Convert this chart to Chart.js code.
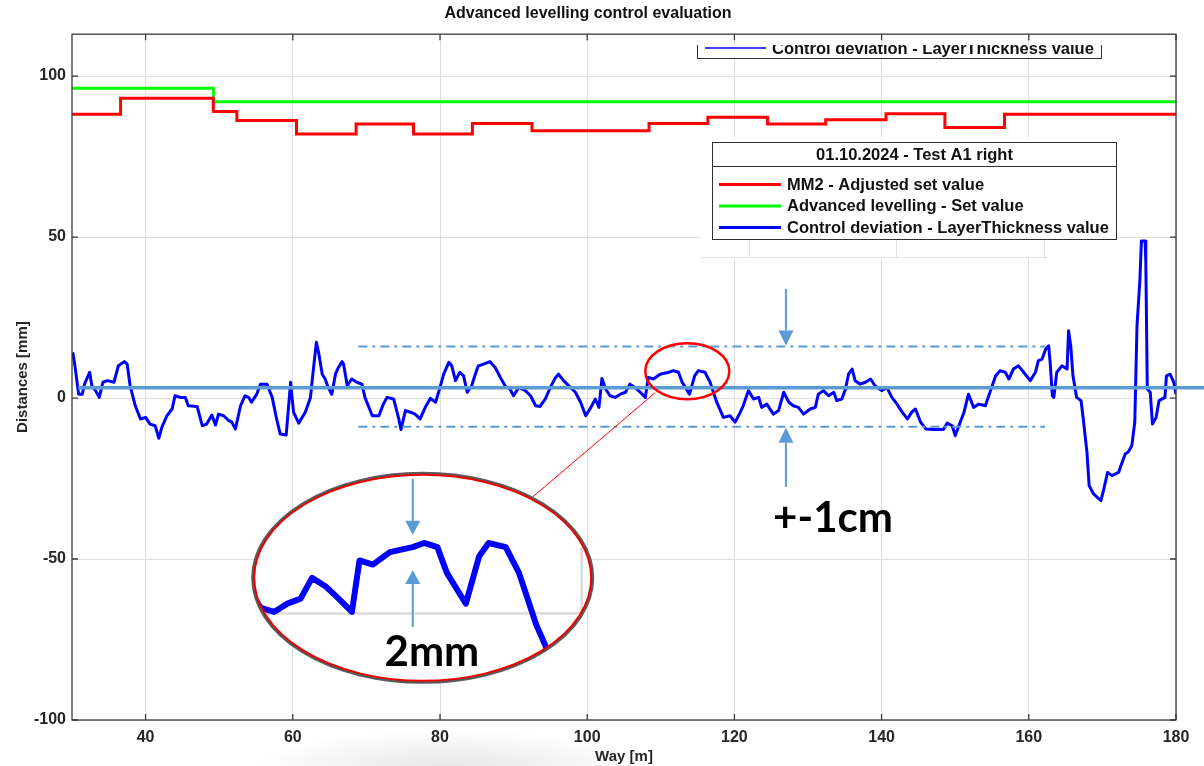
<!DOCTYPE html>
<html><head><meta charset="utf-8">
<script src="https://cdn.jsdelivr.net/npm/chart.js@4.4.1/dist/chart.umd.min.js"></script>
<style>html,body{margin:0;padding:0;background:#fff;}canvas{display:block}</style>
</head><body>
<canvas id="c" width="1204" height="766"></canvas>
<script>
// ---------- texts ----------
const titleText = 'Advanced levelling control evaluation';
const xTitle = 'Way [m]';
const yTitle = 'Distances [mm]';
const legendTitle = '01.10.2024 - Test A1 right';
const seriesNames = ['MM2 - Adjusted set value', 'Advanced levelling - Set value', 'Control deviation - LayerThickness value'];
const bandLabel = '+-1cm';
const insetLabel = '2mm';

// ---------- ticks ----------
const xTicks = [40, 60, 80, 100, 120, 140, 160, 180];
const yTicks = [-100, -50, 0, 50, 100];

// ---------- series ----------
const redWay = [30, 36.6, 49.2, 52.4, 60.5, 68.6, 76.4, 84.4, 92.5, 108.4, 116.4, 124.5, 132.4, 140.6, 148.6, 156.7, 180];
const redSet = [88.1, 93.1, 89.0, 86.2, 82.0, 85.1, 82.0, 85.3, 83.0, 85.3, 87.2, 85.1, 86.4, 88.3, 84.0, 88.1, 88.1];

const greenWay = [30, 49.2, 180];
const greenSet = [96.2, 92.0, 92.0];

const blueWay = [30.1,30.4,30.9,31.4,31.7,32.0,32.4,32.7,33.2,33.7,34.2,34.8,35.7,36.3,37.1,37.5,37.9,38.6,39.3,40.0,
40.6,41.3,41.8,42.2,42.9,43.6,44.0,44.7,45.4,45.8,47.0,47.7,48.3,49.0,49.5,49.9,50.6,51.3,51.7,52.2,
52.9,53.5,54.0,54.4,55.1,55.6,56.5,57.2,57.8,58.3,59.1,59.7,60.1,60.8,61.7,62.4,62.7,63.2,63.5,64.0,
64.4,64.8,65.3,65.8,66.2,66.7,66.9,67.4,68.0,68.7,69.4,69.8,70.8,71.7,72.3,72.8,73.7,74.4,74.7,75.3,
76.0,76.6,77.3,78.0,78.7,79.4,80.0,80.5,81.2,81.6,82.1,82.7,83.2,83.7,84.3,84.8,85.2,85.9,86.8,87.5,
88.2,88.9,89.5,90.0,90.7,91.6,92.3,93.0,93.6,94.3,95.0,95.7,96.1,96.8,97.7,98.4,99.1,99.8,100.5,101.1,
101.6,102.0,102.5,103.1,103.8,104.5,105.2,105.8,106.5,107.2,107.9,108.3,109.0,109.9,111.1,111.7,112.4,112.9,113.6,113.9,
114.6,115.1,116.0,116.7,117.6,118.5,119.4,120.1,120.8,121.2,121.9,122.6,123.3,123.7,124.4,125.3,126.0,126.7,127.4,128.0,
128.7,129.4,130.3,131.0,131.4,132.1,132.8,133.5,133.9,134.6,135.1,135.5,136.0,136.4,137.1,137.8,138.5,139.1,140.0,140.7,
141.4,142.1,142.8,143.5,144.1,144.6,145.3,146.0,147.1,148.4,148.9,149.6,150.0,150.5,151.2,151.8,152.5,153.2,154.1,154.8,
155.5,156.1,156.8,157.3,157.9,158.6,159.3,160.2,160.9,161.3,161.8,162.3,162.7,162.9,163.2,163.4,163.8,164.5,165.2,165.4,
165.7,166.0,166.5,167.1,167.4,167.9,168.2,168.8,169.8,170.2,170.7,171.3,172.2,172.6,173.1,173.5,174.0,174.4,174.7,175.1,
175.3,175.8,175.9,176.1,176.5,176.8,177.3,177.7,178.5,178.7,179.2,179.7,180.0];
const blueDev = [14.2,10.0,1.2,1.2,4.3,5.9,8.0,3.8,2.3,0.2,4.9,5.4,4.9,10.0,11.3,10.5,3.8,-2.4,-6.5,-6.0,
-8.1,-8.6,-12.5,-9.1,-5.5,-3.4,0.7,0.2,0.2,-2.4,-2.6,-8.6,-8.1,-5.3,-8.4,-5.0,-5.5,-7.0,-7.4,-9.6,
-2.4,0.7,0.2,-1.3,1.2,4.3,4.3,0.2,-6.5,-11.2,-11.5,4.9,-4.4,-7.8,-4.4,0.2,6.9,17.3,14.2,7.4,
5.9,3.3,1.2,7.4,9.5,11.3,10.5,3.8,5.9,4.9,4.3,0.2,-5.5,-5.5,-1.9,0.2,-0.3,-6.5,-9.8,-3.9,
-4.4,-5.0,-6.5,-2.9,-0.1,-1.3,3.3,7.4,11.1,10.0,5.4,8.0,6.9,1.8,3.8,7.4,10.0,10.5,11.3,9.5,
6.4,3.6,2.8,0.7,3.3,2.3,0.7,-2.4,-2.6,-0.3,3.3,6.4,7.4,5.4,3.3,1.8,-1.3,-5.5,-2.9,-0.3,
-2.9,6.1,2.8,0.7,0.2,1.2,1.8,4.3,3.3,1.8,0.2,6.4,5.9,7.4,8.0,8.5,8.0,4.9,2.3,1.2,
6.9,8.5,8.0,4.9,-1.3,-6.0,-5.5,-7.5,-4.4,-2.4,2.3,-0.3,0.2,-2.9,-1.9,-5.0,-3.9,1.8,-1.3,-2.4,
-2.9,-5.0,-3.4,-2.9,1.2,2.3,0.7,1.8,-0.8,-0.3,2.8,7.4,9.0,5.4,4.3,4.9,5.9,3.8,2.3,3.3,
0.2,-1.9,-4.4,-6.5,-4.4,-3.4,-7.5,-9.6,-9.8,-9.8,-7.8,-8.6,-11.7,-8.6,-4.4,1.2,-2.9,-1.9,-2.4,2.3,
6.9,8.5,8.0,5.9,9.0,10.0,8.0,5.4,8.0,11.6,12.1,15.2,16.2,11.1,0.7,0.2,8.0,10.0,9.0,20.9,
16.2,6.9,0.2,-0.8,-6.5,-16.8,-27.2,-29.8,-31.9,-28.2,-23.1,-24.1,-23.1,-20.5,-17.4,-16.8,-14.8,-7.5,22.4,36.9,
48.8,48.8,42.1,2.8,1.8,-8.1,-6.0,-0.8,0.2,6.9,7.4,4.9,1.2];

// ---------- annotation values (data units) ----------
const refLevel = 3.2;           // thick light-blue reference line
const refStartWay = 30.85;
const bandUpper = 16.0, bandLower = -8.9, bandFrom = 68.9, bandTo = 162.2;
const arrowWay = 127.0, arrowTopTail = 33.9, arrowBottomTail = -27.6;
const labelPos = [133.4, -37.3];
const smallEllipse = [113.6, 8.35, 5.71, 8.7];     // cx, cy, rx, ry
const insetEllipse = [77.65, -55.85, 23.03, 32.3];
const connector = [[109.2, 1.6], [92.6, -30.7]];
const magSrc = [110, 5], magDst = [73.45, -54.05], magZoom = 2.58, magGridWay = 120;
const insetArrowWay = 76.3, insetTopTail = -25.1, insetTopTip = -42.5, insetBotTip = -53.4, insetBotTail = -71.1;
const insetLabelPos = [78.9, -78.9];

const FONT = 'Liberation Sans';
const TXT = '#262626';
const LBLUE = '#5b9bd5';

function arrow(ctx, x, yTail, yTip, len, half) {
  const dir = Math.sign(yTip - yTail);
  ctx.beginPath(); ctx.moveTo(x, yTail); ctx.lineTo(x, yTip - dir * len); ctx.stroke();
  ctx.beginPath(); ctx.moveTo(x, yTip); ctx.lineTo(x - half, yTip - dir * len); ctx.lineTo(x + half, yTip - dir * len); ctx.closePath(); ctx.fill();
}

const overlay = {
  id: 'overlay',
  beforeDraw(chart) {
    const c = chart.ctx; c.save();
    c.fillStyle = '#fff'; c.fillRect(0, 0, chart.width, chart.height);
    // soft shadow under the inset picture
    c.translate(450, 770); c.scale(1, 0.2);
    const g = c.createRadialGradient(0, 0, 0, 0, 0, 200);
    g.addColorStop(0, 'rgba(0,0,0,0.10)'); g.addColorStop(1, 'rgba(0,0,0,0)');
    c.fillStyle = g; c.fillRect(-220, -220, 440, 440);
    c.restore();
  },
  afterDatasetsDraw(chart) {
    const c = chart.ctx, xs = chart.scales.x, ys = chart.scales.y, A = chart.chartArea;
    const X = v => xs.getPixelForValue(v), Y = v => ys.getPixelForValue(v);
    c.save();

    // ---- covered area under the legend (pasted legend image) ----
    c.fillStyle = '#fff'; c.fillRect(700, 137, 417, 121);
    c.strokeStyle = '#e3e3e3'; c.lineWidth = 1;
    [120, 140, 160].forEach(v => { const px = Math.round(X(v) + 14.7) + 0.5; c.beginPath(); c.moveTo(px, 239); c.lineTo(px, 258); c.stroke(); });
    c.beginPath(); c.moveTo(700, 257.5); c.lineTo(1047, 257.5); c.stroke();

    // ---- frame and inner ticks ----
    c.strokeStyle = '#3a3a3a'; c.lineWidth = 1.3;
    c.strokeRect(A.left, A.top, A.right - A.left, A.bottom - A.top);
    c.beginPath();
    xTicks.forEach(v => { const px = X(v); c.moveTo(px, A.bottom); c.lineTo(px, A.bottom - 6); c.moveTo(px, A.top); c.lineTo(px, A.top + 6); });
    yTicks.forEach(v => { const py = Y(v); c.moveTo(A.left, py); c.lineTo(A.left + 6, py); c.moveTo(A.right, py); c.lineTo(A.right - 6, py); });
    c.stroke();

    // ---- partially hidden legend at the top ----
    c.save();
    c.beginPath(); c.rect(690, 45, 430, 20); c.clip();
    c.fillStyle = '#fff'; c.fillRect(697, 30, 405, 29);
    c.strokeStyle = '#303030'; c.lineWidth = 1; c.strokeRect(697.5, 30.5, 404, 28);
    c.strokeStyle = chart.data.datasets[2].borderColor; c.lineWidth = 1.5;
    c.beginPath(); c.moveTo(705, 48); c.lineTo(766, 48); c.stroke();
    c.fillStyle = '#111'; c.font = 'bold 16.5px "' + FONT + '"'; c.textBaseline = 'alphabetic'; c.textAlign = 'left';
    c.fillText(seriesNames[2], 772, 54);
    c.restore();

    // ---- main legend ----
    c.fillStyle = '#fff'; c.fillRect(712.5, 142.5, 404, 97);
    c.strokeStyle = '#303030'; c.lineWidth = 1;
    c.strokeRect(712.5, 142.5, 404, 97);
    c.beginPath(); c.moveTo(712.5, 166.5); c.lineTo(1116.5, 166.5); c.stroke();
    c.fillStyle = '#111'; c.font = 'bold 16.5px "' + FONT + '"'; c.textBaseline = 'middle';
    c.textAlign = 'center'; c.fillText(legendTitle, 914.5, 155.5);
    c.textAlign = 'left';
    [184.5, 206, 227.5].forEach((ry, i) => {
      c.strokeStyle = chart.data.datasets[i].borderColor; c.lineWidth = 3;
      c.beginPath(); c.moveTo(719, ry); c.lineTo(781, ry); c.stroke();
      c.fillStyle = '#111'; c.fillText(chart.data.datasets[i].label, 787, ry + 0.5);
    });

    // ---- band (dash-dot) lines ----
    c.strokeStyle = LBLUE; c.lineWidth = 2; c.setLineDash([9, 5, 3, 5]);
    [bandUpper, bandLower].forEach(v => { c.beginPath(); c.moveTo(X(bandFrom), Y(v)); c.lineTo(X(bandTo), Y(v)); c.stroke(); });
    c.setLineDash([]);

    // ---- arrows ----
    c.strokeStyle = LBLUE; c.fillStyle = LBLUE; c.lineWidth = 2;
    arrow(c, X(arrowWay), Y(arrowTopTail), Y(bandUpper) - 1, 15, 7.5);
    arrow(c, X(arrowWay), Y(arrowBottomTail), Y(bandLower) + 1, 15, 7.5);

    // ---- reference level line (extends to the page edge) ----
    c.strokeStyle = LBLUE; c.lineWidth = 3.5;
    c.beginPath(); c.moveTo(X(refStartWay), Y(refLevel)); c.lineTo(chart.width, Y(refLevel)); c.stroke();

    // ---- small ellipse and connector ----
    const se = { x: X(smallEllipse[0]), y: Y(smallEllipse[1]), rx: X(smallEllipse[0] + smallEllipse[2]) - X(smallEllipse[0]), ry: Y(smallEllipse[1]) - Y(smallEllipse[1] + smallEllipse[3]) };
    c.strokeStyle = '#ff0000'; c.lineWidth = 2.5;
    c.beginPath(); c.ellipse(se.x, se.y, se.rx, se.ry, 0, 0, Math.PI * 2); c.stroke();
    c.lineWidth = 1;
    c.beginPath(); c.moveTo(X(connector[0][0]), Y(connector[0][1])); c.lineTo(X(connector[1][0]), Y(connector[1][1])); c.stroke();

    // ---- inset magnifier ----
    const ie = { x: X(insetEllipse[0]), y: Y(insetEllipse[1]), rx: X(insetEllipse[0] + insetEllipse[2]) - X(insetEllipse[0]), ry: Y(insetEllipse[1]) - Y(insetEllipse[1] + insetEllipse[3]) };
    const sx = X(magSrc[0]), sy = Y(magSrc[1]), dx = X(magDst[0]), dy = Y(magDst[1]);
    const map = (px, py) => [dx + magZoom * (px - sx), dy + magZoom * (py - sy)];
    c.save();
    c.beginPath(); c.ellipse(ie.x, ie.y, ie.rx, ie.ry, 0, 0, Math.PI * 2);
    c.fillStyle = '#fff'; c.fill(); c.clip();
    const [gx, gy] = map(X(magGridWay), Y(0));
    const [, gyTop] = map(X(magGridWay), Y(8));
    c.strokeStyle = '#dcdcdc'; c.lineWidth = 2.5;
    c.beginPath(); c.moveTo(ie.x - ie.rx, gy); c.lineTo(gx, gy); c.lineTo(gx, gyTop); c.stroke();
    c.strokeStyle = chart.data.datasets[2].borderColor; c.lineWidth = 6; c.lineJoin = 'round'; c.lineCap = 'round';
    c.beginPath();
    chart.getDatasetMeta(2).data.forEach((p, i) => { const [a, b] = map(p.x, p.y); if (i) c.lineTo(a, b); else c.moveTo(a, b); });
    c.stroke();
    c.restore();
    c.strokeStyle = '#5a5a5a'; c.lineWidth = 3;
    c.beginPath(); c.ellipse(ie.x, ie.y, ie.rx + 0.5, ie.ry + 0.5, 0, 0, Math.PI * 2); c.stroke();
    c.strokeStyle = '#ee0000'; c.lineWidth = 2;
    c.beginPath(); c.ellipse(ie.x, ie.y, ie.rx - 1, ie.ry - 1, 0, 0, Math.PI * 2); c.stroke();

    // inset arrows
    c.strokeStyle = LBLUE; c.fillStyle = LBLUE; c.lineWidth = 2;
    arrow(c, X(insetArrowWay), Y(insetTopTail), Y(insetTopTip), 14, 7.5);
    arrow(c, X(insetArrowWay), Y(insetBotTail), Y(insetBotTip), 14, 7.5);

    // ---- big texts ----
    c.fillStyle = '#000'; c.textAlign = 'center'; c.textBaseline = 'middle';
    c.font = 'bold 42px Lato';
    c.fillText(bandLabel, X(labelPos[0]), Y(labelPos[1]));
    c.fillText(insetLabel, X(insetLabelPos[0]), Y(insetLabelPos[1]));
    c.restore();
  }
};

const tickFont = { family: FONT, size: 16, weight: 'bold' };
new Chart(document.getElementById('c'), {
  type: 'line',
  data: {
    datasets: [
      { label: seriesNames[0], data: redWay.map((x, i) => ({ x, y: redSet[i] })), borderColor: '#ff0000', borderWidth: 3, stepped: true, pointRadius: 0 },
      { label: seriesNames[1], data: greenWay.map((x, i) => ({ x, y: greenSet[i] })), borderColor: '#00ff00', borderWidth: 3, stepped: true, pointRadius: 0 },
      { label: seriesNames[2], data: blueWay.map((x, i) => ({ x, y: blueDev[i] })), borderColor: '#0000ff', borderWidth: 3, pointRadius: 0, tension: 0, borderJoinStyle: 'round' }
    ]
  },
  options: {
    responsive: false, animation: false, events: [],
    layout: { padding: { left: 0, right: 28, top: 0, bottom: 0 } },
    plugins: {
      legend: { display: false }, tooltip: { enabled: false },
      title: { display: true, text: titleText, color: '#111', font: { family: FONT, size: 16, weight: 'bold' }, padding: { top: 4, bottom: 11 } }
    },
    scales: {
      x: {
        type: 'linear', min: 30, max: 180,
        afterBuildTicks: s => { s.ticks = xTicks.map(v => ({ value: v })); },
        afterFit: s => { s.height = 46; },
        grid: { color: '#dedede', lineWidth: 1, drawTicks: false },
        border: { display: false },
        ticks: { color: TXT, font: tickFont, padding: 8, maxRotation: 0, autoSkip: false },
        title: { display: true, text: xTitle, color: TXT, font: { family: FONT, size: 15, weight: 'bold' }, padding: { top: 0, bottom: 0 } }
      },
      y: {
        type: 'linear', min: -100, max: 113,
        afterBuildTicks: s => { s.ticks = yTicks.map(v => ({ value: v })); },
        afterFit: s => { s.width = 72; },
        grid: { color: '#dedede', lineWidth: 1, drawTicks: false },
        border: { display: false },
        ticks: { color: TXT, font: tickFont, padding: 6, autoSkip: false },
        title: { display: true, text: yTitle, color: TXT, font: { family: FONT, size: 15, weight: 'bold' }, padding: { top: 14, bottom: 0 } }
      }
    }
  },
  plugins: [overlay]
});
</script>
</body></html>
